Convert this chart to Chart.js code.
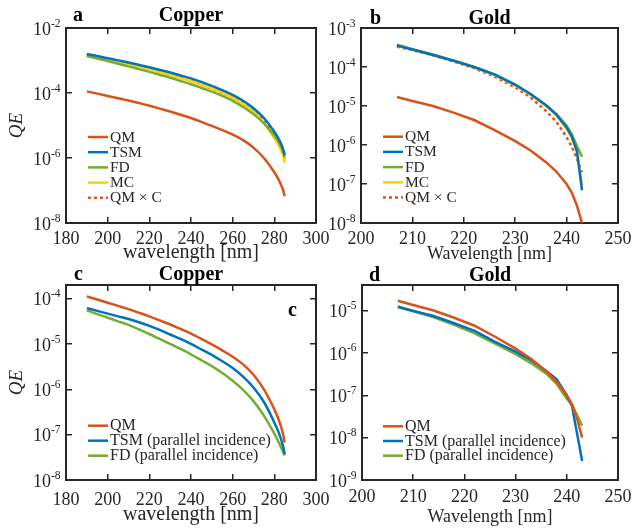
<!DOCTYPE html>
<html>
<head>
<meta charset="utf-8">
<title>QE Copper / Gold</title>
<script src="https://cdn.jsdelivr.net/npm/chart.js@4.4.0/dist/chart.umd.min.js"></script>
<style>
    html, body { margin: 0; padding: 0; background: #fff; }
    #wrap { position: relative; width: 632px; height: 528px; overflow: hidden; }
    canvas { position: absolute; }
</style>
</head>
<body>
<div id="wrap">
    <canvas id="panelA" width="345" height="270" style="left:0px;top:0px"></canvas>
    <canvas id="panelB" width="332" height="270" style="left:300px;top:0px"></canvas>
    <canvas id="panelC" width="345" height="264" style="left:0px;top:264px"></canvas>
    <canvas id="panelD" width="332" height="264" style="left:300px;top:264px"></canvas>
</div>
<script>
// Copper (panels a, c)
const cuWavelength = [190, 195, 200, 205, 210, 215, 220, 225, 230, 235, 240, 245, 250, 255, 260, 265, 270, 275, 280, 282, 284, 285];
const cuQM     = [1.12e-4, 9.55e-5, 8.13e-5, 6.92e-5, 5.89e-5, 4.90e-5, 4.07e-5, 3.31e-5, 2.69e-5, 2.14e-5, 1.70e-5, 1.30e-5, 9.77e-6, 7.24e-6, 5.25e-6, 3.55e-6, 2.09e-6, 1.00e-6, 3.63e-7, 2.19e-7, 1.12e-7, 6.76e-8];
const cuTSM    = [1.59e-3, 1.37e-3, 1.18e-3, 1.01e-3, 8.71e-4, 7.33e-4, 6.17e-4, 5.13e-4, 4.27e-4, 3.47e-4, 2.82e-4, 2.19e-4, 1.66e-4, 1.23e-4, 8.71e-5, 5.75e-5, 3.39e-5, 1.70e-5, 6.46e-6, 3.98e-6, 2.09e-6, 1.23e-6];
const cuFD     = [1.38e-3, 1.15e-3, 9.55e-4, 7.94e-4, 6.61e-4, 5.43e-4, 4.47e-4, 3.63e-4, 2.95e-4, 2.34e-4, 1.86e-4, 1.43e-4, 1.10e-4, 8.13e-5, 5.75e-5, 3.72e-5, 2.24e-5, 1.17e-5, 4.90e-6, 3.16e-6, 1.74e-6, 1.07e-6];
const cuMC     = [1.48e-3, 1.26e-3, 1.07e-3, 9.12e-4, 7.76e-4, 6.46e-4, 5.37e-4, 4.42e-4, 3.63e-4, 2.92e-4, 2.34e-4, 1.80e-4, 1.38e-4, 1.02e-4, 7.08e-5, 4.57e-5, 2.69e-5, 1.20e-5, 3.98e-6, 2.51e-6, 1.26e-6, 7.08e-7];
const cuQMxC   = [1.55e-3, 1.32e-3, 1.12e-3, 9.55e-4, 8.13e-4, 6.76e-4, 5.62e-4, 4.57e-4, 3.72e-4, 2.95e-4, 2.34e-4, 1.80e-4, 1.35e-4, 1.00e-4, 7.24e-5, 4.90e-5, 2.88e-5, 1.38e-5, 5.01e-6, 3.02e-6, 1.55e-6, 9.33e-7];
const cuTSMpar = [6.17e-5, 5.37e-5, 4.68e-5, 4.07e-5, 3.55e-5, 3.02e-5, 2.51e-5, 2.04e-5, 1.62e-5, 1.29e-5, 1.00e-5, 7.59e-6, 5.75e-6, 4.17e-6, 2.95e-6, 1.91e-6, 1.10e-6, 5.25e-7, 1.86e-7, 1.15e-7, 6.03e-8, 3.72e-8];
const cuFDpar  = [5.50e-5, 4.57e-5, 3.80e-5, 3.16e-5, 2.63e-5, 2.09e-5, 1.66e-5, 1.29e-5, 1.00e-5, 7.76e-6, 5.89e-6, 4.37e-6, 3.24e-6, 2.29e-6, 1.55e-6, 9.77e-7, 5.50e-7, 2.63e-7, 1.05e-7, 6.92e-8, 4.37e-8, 3.47e-8];

// Gold (panels b, d)
const auWavelength = [207, 210, 214, 218, 222, 226, 230, 233, 236, 238, 240, 241, 242, 243];
const auQM     = [1.70e-5, 1.35e-5, 1.00e-5, 6.76e-6, 4.37e-6, 2.40e-6, 1.26e-6, 7.24e-7, 3.63e-7, 2.09e-7, 1.00e-7, 6.03e-8, 2.82e-8, 1.00e-8];
const auTSM    = [3.55e-4, 2.82e-4, 2.04e-4, 1.45e-4, 1.00e-4, 6.46e-5, 3.55e-5, 2.04e-5, 1.05e-5, 6.03e-6, 2.82e-6, 1.66e-6, 7.08e-7, 6.92e-8];
const auFD     = [3.72e-4, 2.88e-4, 2.09e-4, 1.48e-4, 1.00e-4, 6.31e-5, 3.47e-5, 2.00e-5, 1.05e-5, 6.31e-6, 3.16e-6, 1.91e-6, 9.55e-7, 5.01e-7];
const auMC     = [3.55e-4, 2.82e-4, 2.04e-4, 1.45e-4, 9.77e-5, 6.17e-5, 3.39e-5, 1.95e-5, 1.00e-5, 5.75e-6, 2.63e-6, 1.51e-6, 6.61e-7, 9.33e-8];
const auQMxC   = [3.31e-4, 2.69e-4, 2.00e-4, 1.38e-4, 9.33e-5, 5.62e-5, 3.02e-5, 1.66e-5, 7.41e-6, 3.98e-6, 1.58e-6, 9.12e-7, 4.47e-7, 2.00e-7];
const auTSMpar = [1.20e-5, 9.77e-6, 7.41e-6, 5.01e-6, 3.31e-6, 1.82e-6, 1.07e-6, 6.76e-7, 3.72e-7, 2.40e-7, 1.00e-7, 5.62e-8, 1.26e-8, 2.82e-9];
const auFDpar  = [1.26e-5, 9.77e-6, 6.92e-6, 4.57e-6, 2.88e-6, 1.66e-6, 9.33e-7, 5.75e-7, 3.24e-7, 1.86e-7, 8.32e-8, 6.03e-8, 3.39e-8, 1.91e-8];

// tick exponents on the log axes
const expA = [-8, -6, -4, -2];
const expB = [-8, -7, -6, -5, -4, -3];
const expC = [-8, -7, -6, -5, -4];
const expD = [-9, -8, -7, -6, -5];

const SERIF = '"Liberation Serif", "Times New Roman", serif';
const AXIS = '#262626';
const C_QM = '#D95319', C_TSM = '#0072BD', C_FD = '#77AC30', C_MC = '#FFD200', C_QMC = '#E4502A';

Chart.defaults.font.family = SERIF;
Chart.defaults.color = AXIS;

// 10^n labels with a real superscript + legend + panel letters, drawn after the chart
const decor = {
    id: 'decor',
    afterDraw(chart, args, o) {
        const ctx = chart.ctx;
        const ca = chart.chartArea;
        const ys = chart.scales.y;
        ctx.save();
        ctx.fillStyle = AXIS;
        ctx.textBaseline = 'middle';
        ctx.textAlign = 'right';
        ys.ticks.forEach(t => {
            const py = ys.getPixelForValue(t.value);
            const e = String(Math.round(Math.log10(t.value)));
            ctx.font = '11.5px ' + SERIF;
            const ew = ctx.measureText(e).width;
            const xr = ca.left - 5.5;
            ctx.fillText(e, xr, py - 4.5);
            ctx.font = '18px ' + SERIF;
            ctx.fillText('10', xr - ew, py + 2);
        });

        // legend inside the axes, MATLAB style
        ctx.textAlign = 'left';
        ctx.font = o.legendSize + 'px ' + SERIF;
        chart.data.datasets.forEach((ds, i) => {
            const y = ca.top + o.legendY + i * o.legendRow;
            const x0 = ca.left + o.legendX;
            ctx.strokeStyle = ds.borderColor;
            ctx.lineWidth = 2.5;
            ctx.setLineDash(ds.borderDash || []);
            ctx.beginPath();
            ctx.moveTo(x0, y);
            ctx.lineTo(x0 + 20, y);
            ctx.stroke();
            ctx.setLineDash([]);
            ctx.fillStyle = AXIS;
            ctx.fillText(ds.label, x0 + 22, y + 0.5);
        });

        // panel letter + title
        ctx.fillStyle = '#000';
        ctx.textBaseline = 'alphabetic';
        ctx.font = 'bold 20px ' + SERIF;
        ctx.textAlign = 'left';
        ctx.fillText(o.letter, ca.left + o.letterX, o.titleY);
        (o.extra || []).forEach(t => ctx.fillText(t.text, ca.right + t.dx, ca.top + t.dy));
        ctx.textAlign = 'center';
        ctx.fillText(o.title, (ca.left + ca.right) / 2, o.titleY);
        ctx.restore();
    }
};

function axisStyle() {
    return {
        grid: { drawOnChartArea: false, tickLength: -6, color: AXIS, lineWidth: 1.5 },
        border: { color: AXIS, width: 2 }
    };
}

function makePanel(id, p) {
    const datasets = p.series.map(s => ({
        label: s.label,
        data: p.x.map((x, i) => ({ x: x, y: s.y[i] })),
        borderColor: s.color,
        borderWidth: 2.5,
        borderDash: s.dash || [],
        pointRadius: 0,
        fill: false,
        cubicInterpolationMode: p.smooth ? 'monotone' : 'default',
        tension: 0
    }));

    const decadeTicks = scale => {
        scale.ticks = p.exps.map(e => ({ value: Math.pow(10, e) }));
    };

    return new Chart(document.getElementById(id), {
        type: 'line',
        data: { datasets: datasets },
        plugins: [decor],
        options: {
            responsive: false,
            animation: false,
            devicePixelRatio: 1,
            events: [],
            layout: { autoPadding: false, padding: { left: 0, top: p.top, right: p.right, bottom: 0 } },
            scales: {
                x: {
                    type: 'linear', position: 'bottom', min: p.xMin, max: p.xMax,
                    ticks: { stepSize: p.xStep, autoSkip: false, maxRotation: 0, padding: p.xPad, font: { size: 18 }, color: AXIS },
                    title: { display: true, text: p.xTitle, color: AXIS, font: { size: p.xTitleSize }, padding: { top: 0, bottom: p.xTitlePad } },
                    ...axisStyle(),
                    afterFit: s => { s.height = p.xH; s.paddingLeft = 0; s.paddingRight = 0; }
                },
                x2: {
                    type: 'linear', position: 'top', min: p.xMin, max: p.xMax,
                    ticks: { stepSize: p.xStep, display: false },
                    ...axisStyle(),
                    afterFit: s => { s.height = 0; s.paddingLeft = 0; s.paddingRight = 0; }
                },
                y: {
                    type: 'logarithmic', position: 'left', min: p.yMin, max: p.yMax,
                    afterBuildTicks: decadeTicks,
                    ticks: { display: false },
                    title: { display: !!p.yTitle, text: p.yTitle || '', color: AXIS, font: { size: 19, style: 'italic' }, padding: { top: 6, bottom: 0 } },
                    ...axisStyle(),
                    afterFit: s => { s.width = p.yW; s.paddingTop = 0; s.paddingBottom = 0; }
                },
                y2: {
                    type: 'logarithmic', position: 'right', min: p.yMin, max: p.yMax,
                    afterBuildTicks: decadeTicks,
                    ticks: { display: false },
                    ...axisStyle(),
                    afterFit: s => { s.width = 0; s.paddingTop = 0; s.paddingBottom = 0; }
                }
            },
            plugins: {
                legend: { display: false },
                tooltip: { enabled: false },
                decor: p.decor
            }
        }
    });
}

// a - Copper
makePanel('panelA', {
    x: cuWavelength, smooth: true,
    series: [
        { label: 'QM', y: cuQM, color: C_QM },
        { label: 'TSM', y: cuTSM, color: C_TSM },
        { label: 'FD', y: cuFD, color: C_FD },
        { label: 'MC', y: cuMC, color: C_MC },
        { label: 'QM \u00d7 C', y: cuQMxC, color: C_QMC, dash: [3, 3] }
    ],
    xMin: 180, xMax: 300, xStep: 20, xTitle: 'wavelength [nm]', xTitleSize: 20, xTitlePad: 5, xPad: 11,
    yMin: 1e-8, yMax: 1e-2, exps: expA, yTitle: 'QE',
    top: 28, right: 29, yW: 66, xH: 47,
    decor: { letter: 'a', letterX: 7, title: 'Copper', titleY: 21, legendX: 22, legendY: 109, legendRow: 15.2, legendSize: 15.5 }
});

// b - Gold
makePanel('panelB', {
    x: auWavelength, smooth: false,
    series: [
        { label: 'QM', y: auQM, color: C_QM },
        { label: 'TSM', y: auTSM, color: C_TSM },
        { label: 'FD', y: auFD, color: C_FD },
        { label: 'MC', y: auMC, color: C_MC },
        { label: 'QM \u00d7 C', y: auQMxC, color: C_QMC, dash: [3, 3] }
    ],
    xMin: 200, xMax: 250, xStep: 10, xTitle: 'Wavelength [nm]', xTitleSize: 18, xTitlePad: 5, xPad: 11,
    yMin: 1e-8, yMax: 1e-3, exps: expB,
    top: 28, right: 14, yW: 61, xH: 47,
    decor: { letter: 'b', letterX: 9, title: 'Gold', titleY: 24, legendX: 22, legendY: 108.7, legendRow: 15.2, legendSize: 15.5 }
});

// c - Copper, parallel incidence
makePanel('panelC', {
    x: cuWavelength, smooth: true,
    series: [
        { label: 'QM', y: cuQM, color: C_QM },
        { label: 'TSM (parallel incidence)', y: cuTSMpar, color: C_TSM },
        { label: 'FD (parallel incidence)', y: cuFDpar, color: C_FD }
    ],
    xMin: 180, xMax: 300, xStep: 20, xTitle: 'wavelength [nm]', xTitleSize: 20, xTitlePad: 1, xPad: 15,
    yMin: 1e-8, yMax: 2e-4, exps: expC, yTitle: 'QE',
    top: 21, right: 29, yW: 66, xH: 48,
    decor: { letter: 'c', letterX: 8, title: 'Copper', titleY: 16, legendX: 22, legendY: 140.7, legendRow: 15, legendSize: 16,
             extra: [{ text: 'c', dx: -28, dy: 31 }] }
});

// d - Gold, parallel incidence
makePanel('panelD', {
    x: auWavelength, smooth: false,
    series: [
        { label: 'QM', y: auQM, color: C_QM },
        { label: 'TSM (parallel incidence)', y: auTSMpar, color: C_TSM },
        { label: 'FD (parallel incidence)', y: auFDpar, color: C_FD }
    ],
    xMin: 200, xMax: 250, xStep: 10, xTitle: 'Wavelength [nm]', xTitleSize: 18, xTitlePad: 0, xPad: 12,
    yMin: 1e-9, yMax: 4e-5, exps: expD,
    top: 21, right: 14, yW: 62, xH: 48,
    decor: { letter: 'd', letterX: 7, title: 'Gold', titleY: 17, legendX: 21, legendY: 141.3, legendRow: 14.7, legendSize: 16 }
});
</script>
</body>
</html>
